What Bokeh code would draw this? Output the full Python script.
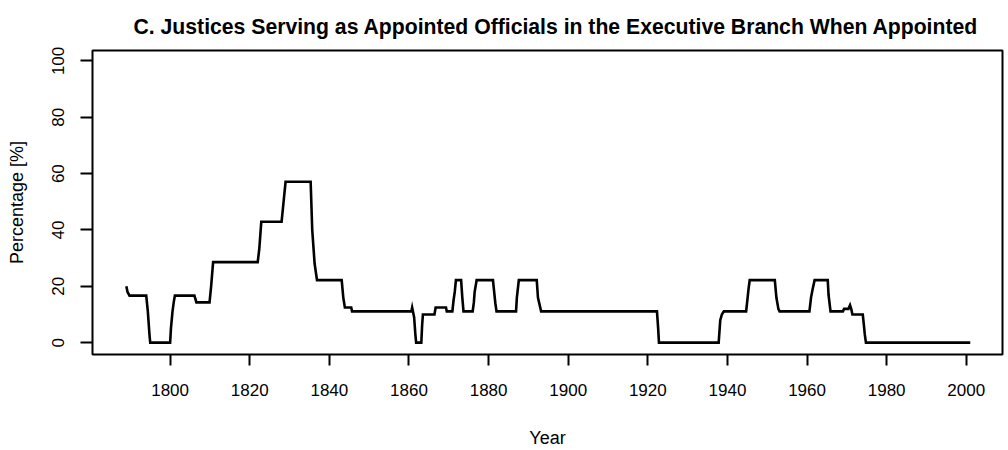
from bokeh.plotting import figure
from bokeh.models import Range1d, FixedTicker, ColumnDataSource
from bokeh.embed import file_html
from bokeh.resources import INLINE

title_text = "C. Justices Serving as Appointed Officials in the Executive Branch When Appointed"
x_label = "Year"
y_label = "Percentage [%]"
x_ticks = [1800, 1820, 1840, 1860, 1880, 1900, 1920, 1940, 1960, 1980, 2000]
y_ticks = [0, 20, 40, 60, 80, 100]

years = [
    1789.0, 1789.3, 1789.8, 1794.0, 1794.4, 1794.8, 1795.0, 1800.0, 1800.2, 1800.6,
    1800.9, 1801.2, 1806.1, 1806.6, 1809.9, 1810.3, 1810.8, 1822.0, 1822.4, 1822.9,
    1828.0, 1828.5, 1829.0, 1835.3, 1835.7, 1836.3, 1836.9, 1843.1, 1843.5, 1843.9,
    1845.5, 1845.7, 1860.6, 1860.8, 1861.3, 1861.6, 1861.8, 1863.1, 1863.3, 1863.5,
    1866.4, 1866.7, 1869.3, 1869.5, 1870.9, 1871.2, 1871.5, 1871.8, 1873.1, 1873.4,
    1873.7, 1876.0, 1876.3, 1876.5, 1877.0, 1881.1, 1881.4, 1881.7, 1882.0, 1886.9,
    1887.1, 1887.6, 1892.1, 1892.4, 1893.2, 1922.3, 1922.6, 1922.8, 1937.8, 1938.2,
    1938.6, 1939.1, 1944.7, 1945.0, 1945.3, 1945.6, 1951.9, 1952.3, 1952.8, 1953.1,
    1960.6, 1961.0, 1961.4, 1961.9, 1965.2, 1965.4, 1965.9, 1969.0, 1969.3, 1970.4,
    1970.8, 1971.1, 1971.4, 1974.0, 1974.3, 1974.5, 1974.8, 2001.0,
]
pct = [
    20.0, 18.0, 16.7, 16.7, 11.1, 3.0, 0.0, 0.0, 5.0, 11.1,
    14.3, 16.7, 16.7, 14.3, 14.3, 20.0, 28.6, 28.6, 33.3, 42.9,
    42.9, 50.0, 57.1, 57.1, 40.0, 28.0, 22.2, 22.2, 16.0, 12.5,
    12.5, 11.1, 11.1, 12.5, 9.0, 3.0, 0.0, 0.0, 6.0, 10.0,
    10.0, 12.5, 12.5, 11.1, 11.1, 15.0, 18.0, 22.2, 22.2, 16.0,
    11.1, 11.1, 14.3, 18.0, 22.2, 22.2, 18.0, 14.0, 11.1, 11.1,
    16.0, 22.2, 22.2, 16.0, 11.1, 11.1, 5.0, 0.0, 0.0, 8.0,
    10.0, 11.1, 11.1, 15.0, 19.0, 22.2, 22.2, 16.0, 12.0, 11.1,
    11.1, 16.0, 19.0, 22.2, 22.2, 17.0, 11.1, 11.1, 12.0, 12.0,
    13.3, 12.0, 10.0, 10.0, 6.0, 3.0, 0.0, 0.0,
]

FONT = "Liberation Sans"

src = ColumnDataSource(data=dict(year=years, pct=pct))

p = figure(width=1005, height=450, output_backend="svg", toolbar_location=None,
           x_range=Range1d(1780.5, 2009.1), y_range=Range1d(-4.2, 103.7),
           min_border_left=92, min_border_right=3, min_border_top=46,
           min_border_bottom=95, title=title_text)

p.line("year", "pct", source=src, line_color="black", line_width=2.6,
       line_join="miter", line_cap="butt")

p.title.text_font = FONT
p.title.text_font_size = "21.2px"
p.title.text_font_style = "bold"
p.title.text_color = "black"
p.title.align = "left"
p.title.offset = 41
p.title.standoff = 25

p.grid.visible = False
p.outline_line_color = "black"
p.outline_line_width = 2
p.background_fill_color = "white"
p.border_fill_color = "white"

for ax in (p.xaxis[0], p.yaxis[0]):
    ax.axis_line_color = None
    ax.major_tick_in = 0
    ax.minor_tick_in = 0
    ax.minor_tick_out = 0
    ax.major_tick_line_width = 2
    ax.major_tick_line_color = "black"
    ax.major_label_text_font = FONT
    ax.major_label_text_font_size = "17px"
    ax.major_label_text_color = "black"
    ax.axis_label_text_font = FONT
    ax.axis_label_text_font_size = "18px"
    ax.axis_label_text_font_style = "normal"
    ax.axis_label_text_color = "black"

p.xaxis.ticker = FixedTicker(ticks=x_ticks)
p.xaxis.major_tick_out = 11
p.xaxis.major_label_standoff = 18
p.xaxis.axis_label = x_label
p.xaxis.axis_label_standoff = 29

p.yaxis.ticker = FixedTicker(ticks=y_ticks)
p.yaxis.major_tick_out = 12
p.yaxis.major_label_orientation = "vertical"
p.yaxis.major_label_standoff = 16
p.yaxis.axis_label = y_label
p.yaxis.axis_label_standoff = 23

open("out.html", "w").write(file_html(p, INLINE))
